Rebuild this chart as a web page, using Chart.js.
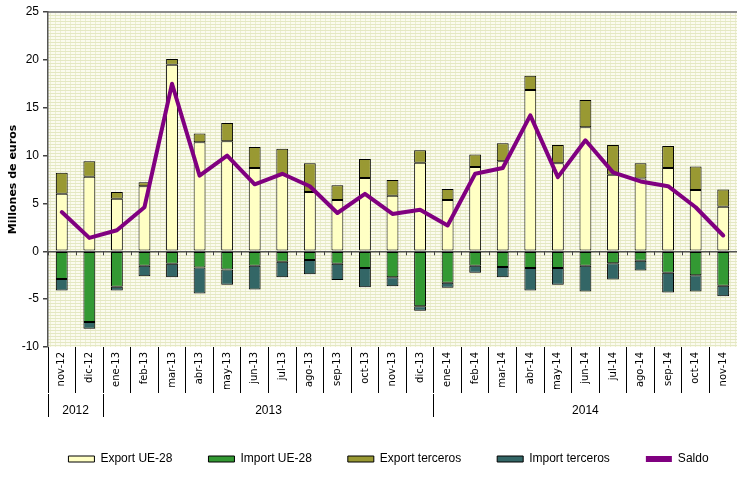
<!DOCTYPE html>
<html lang="es">
<head>
<meta charset="UTF-8">
<title>Comercio exterior</title>
<script src="https://cdn.jsdelivr.net/npm/chart.js@4.4.0/dist/chart.umd.min.js"></script>
<style>
  html, body { margin: 0; padding: 0; background: #fff; }
  #wrap { width: 737px; height: 479px; position: relative; }
</style>
</head>
<body>
<div id="wrap"><canvas id="barChart"></canvas></div>
<script>
// datos (millones de euros)
const months = ['nov-12', 'dic-12', 'ene-13', 'feb-13', 'mar-13', 'abr-13', 'may-13', 'jun-13', 'jul-13',
  'ago-13', 'sep-13', 'oct-13', 'nov-13', 'dic-13', 'ene-14', 'feb-14', 'mar-14', 'abr-14', 'may-14',
  'jun-14', 'jul-14', 'ago-14', 'sep-14', 'oct-14', 'nov-14']
const years = ['2012', '2013', '2014']
const yearSpans = [2, 12, 11]

const exportUE = [6.0, 7.8, 5.5, 6.8, 19.5, 11.4, 11.5, 8.7, 8.0, 6.2, 5.35, 7.65, 5.8, 9.25, 5.35, 8.8, 9.4, 16.85, 9.2, 12.95, 8.0, 7.6, 8.7, 6.4, 4.65]
const importUE = [-2.9, -7.4, -3.7, -1.5, -1.3, -1.7, -1.9, -1.5, -1.1, -0.9, -1.3, -1.75, -2.7, -5.75, -3.3, -1.5, -1.65, -1.75, -1.75, -1.5, -1.25, -1.0, -2.25, -2.5, -3.6]
const exportTerc = [2.2, 1.6, 0.7, 0.4, 0.6, 0.9, 1.9, 2.2, 2.7, 3.0, 1.55, 2.0, 1.65, 1.3, 1.15, 1.3, 1.9, 1.5, 1.9, 2.85, 3.1, 1.6, 2.3, 2.45, 1.8]
const importTerc = [-1.2, -0.7, -0.4, -1.1, -1.4, -2.7, -1.6, -2.5, -1.6, -1.5, -1.7, -2.0, -0.95, -0.45, -0.5, -0.75, -1.05, -2.35, -1.75, -2.7, -1.7, -1.0, -2.05, -1.7, -1.1]
const saldo = [4.1, 1.4, 2.2, 4.6, 17.5, 7.9, 10.0, 7.0, 8.1, 6.8, 4.0, 6.0, 3.9, 4.35, 2.7, 8.1, 8.7, 14.2, 7.75, 11.6, 8.25, 7.3, 6.8, 4.6, 1.65]

const SANS = '"Liberation Sans Narrow", "Arial Narrow", "Liberation Sans", Arial, sans-serif'

// limites y centros de los años en el eje secundario
let yearBounds = [-0.5]
let yearCenters = []
yearSpans.forEach(function(n) {
    let start = yearBounds[yearBounds.length - 1]
    yearCenters.push(start + n / 2)
    yearBounds.push(start + n)
})
let yearTicks = yearBounds.concat(yearCenters).sort(function(a, b) { return a - b })

// fondo tramado del área de trazado
const plotBg = {
    id: 'plotBg',
    afterLayout(chart) {
        // la leyenda del original está algo desplazada a la derecha
        if (chart.legend) {
            chart.legend.left += 20
            chart.legend.right += 20
        }
    },
    beforeDraw(chart) {
        const ctx = chart.ctx
        const a = chart.chartArea
        let p = document.createElement('canvas')
        p.width = 5
        p.height = 3
        let pc = p.getContext('2d')
        pc.fillStyle = '#fbfbef'
        pc.fillRect(0, 0, 5, 3)
        pc.fillStyle = '#e4e8c2'
        pc.fillRect(0, 0, 5, 1)
        pc.fillStyle = '#eceed3'
        pc.fillRect(0, 1, 1, 2)
        ctx.save()
        ctx.fillStyle = ctx.createPattern(p, 'repeat')
        ctx.fillRect(a.left, a.top, a.right - a.left, a.bottom - a.top)
        ctx.strokeStyle = '#8c8c8c'
        ctx.lineWidth = 2
        ctx.beginPath()
        ctx.moveTo(a.left, a.top)
        ctx.lineTo(a.right, a.top)
        ctx.stroke()
        ctx.restore()
    },
    beforeDatasetsDraw(chart) {
        const ctx = chart.ctx
        const x = chart.scales.x
        const y0 = chart.scales.y.getPixelForValue(0)
        const w = x.getPixelForValue(1) - x.getPixelForValue(0)
        ctx.save()
        ctx.strokeStyle = '#444'
        ctx.lineWidth = 1
        ctx.beginPath()
        for (let i = 0; i <= months.length; i++) {
            let px = Math.round(x.getPixelForValue(0) + (i - 0.5) * w) + 0.5
            ctx.moveTo(px, y0)
            ctx.lineTo(px, y0 + 4)
        }
        ctx.stroke()
        ctx.restore()
    }
}

let ctx = document.getElementById('barChart')
let myChart = new Chart(ctx, {
    type: 'bar',
    data: {
        labels: months,
        datasets: [{
            label: 'Export UE-28',
            data: exportUE,
            backgroundColor: '#ffffc4',
            borderColor: '#000',
            borderWidth: 1,
            borderSkipped: false,
            stack: 'com'
        }, {
            label: 'Import UE-28',
            data: importUE,
            backgroundColor: '#339933',
            borderColor: '#000',
            borderWidth: 1,
            borderSkipped: false,
            stack: 'com'
        }, {
            label: 'Export terceros',
            data: exportTerc,
            backgroundColor: '#999933',
            borderColor: '#000',
            borderWidth: 1,
            borderSkipped: false,
            stack: 'com'
        }, {
            label: 'Import terceros',
            data: importTerc,
            backgroundColor: '#336666',
            borderColor: '#000',
            borderWidth: 1,
            borderSkipped: false,
            stack: 'com'
        }, {
            type: 'line',
            label: 'Saldo',
            data: saldo,
            borderColor: '#800080',
            backgroundColor: '#800080',
            borderWidth: 4,
            pointRadius: 0,
            lineTension: 0,
            borderJoinStyle: 'round',
            borderCapStyle: 'round',
            fill: false,
            stack: 'saldo',
            order: -1
        }]
    },
    options: {
        responsive: true,
        maintainAspectRatio: false,
        animation: false,
        layout: {
            autoPadding: false,
            padding: { top: 12, left: 0, right: 0, bottom: 4 }
        },
        datasets: {
            bar: { barPercentage: 0.43, categoryPercentage: 1 }
        },
        plugins: {
            tooltip: { enabled: false },
            legend: {
                position: 'bottom',
                labels: {
                    boxWidth: 26,
                    boxHeight: 6,
                    padding: 36,
                    color: '#000',
                    font: { family: SANS, size: 12 },
                    sort: function(a, b) { return a.datasetIndex - b.datasetIndex },
                    generateLabels: function(chart) {
                        let items = Chart.defaults.plugins.legend.labels.generateLabels(chart)
                        items.forEach(function(it) {
                            if (it.text === 'Saldo') {
                                it.lineWidth = 0
                                it.strokeStyle = '#800080'
                            }
                        })
                        return items
                    }
                }
            }
        },
        scales: {
            x: {
                stacked: true,
                offset: true,
                border: { display: false },
                grid: {
                    offset: true,
                    drawOnChartArea: false,
                    tickLength: 46,
                    color: '#000',
                    tickColor: '#000'
                },
                ticks: {
                    autoSkip: false,
                    minRotation: 90,
                    maxRotation: 90,
                    padding: -41,
                    color: '#000',
                    font: { family: '"DejaVu Sans", sans-serif', size: 10 }
                },
                afterFit: function(scale) { scale.height = 47 }
            },
            x2: {
                type: 'linear',
                position: 'bottom',
                min: -0.5,
                max: 24.5,
                offset: false,
                border: { display: false },
                afterBuildTicks: function(scale) {
                    scale.ticks = yearTicks.map(function(v) { return { value: v } })
                },
                grid: {
                    offset: false,
                    drawOnChartArea: false,
                    tickLength: 23,
                    color: function(c) { return yearBounds.indexOf(c.tick && c.tick.value) >= 0 ? '#000' : 'rgba(0,0,0,0)' },
                    tickColor: function(c) { return yearBounds.indexOf(c.tick && c.tick.value) >= 0 ? '#000' : 'rgba(0,0,0,0)' }
                },
                ticks: {
                    autoSkip: false,
                    maxRotation: 0,
                    padding: -14,
                    color: '#000',
                    font: { family: SANS, size: 12 },
                    callback: function(v) {
                        let k = yearCenters.indexOf(v)
                        return k >= 0 ? years[k] : ''
                    }
                },
                afterFit: function(scale) { scale.height = 23 }
            },
            y: {
                stacked: true,
                min: -10,
                max: 25,
                border: { display: true, color: '#555', width: 1.5 },
                grid: {
                    drawOnChartArea: true,
                    tickLength: 5,
                    lineWidth: 1.5,
                    color: function(c) { return c.tick && c.tick.value === 0 ? '#555' : 'rgba(0,0,0,0)' },
                    tickColor: '#444'
                },
                ticks: {
                    stepSize: 5,
                    padding: 4,
                    color: '#000',
                    font: { family: SANS, size: 12 }
                },
                title: {
                    display: true,
                    text: 'Millones de euros',
                    color: '#000',
                    padding: { top: 7, bottom: 0 },
                    font: { family: '"DejaVu Sans", sans-serif', size: 11, weight: 'bold' }
                },
                afterFit: function(scale) { scale.width = 48 }
            }
        }
    },
    plugins: [plotBg]
})
</script>
</body>
</html>
